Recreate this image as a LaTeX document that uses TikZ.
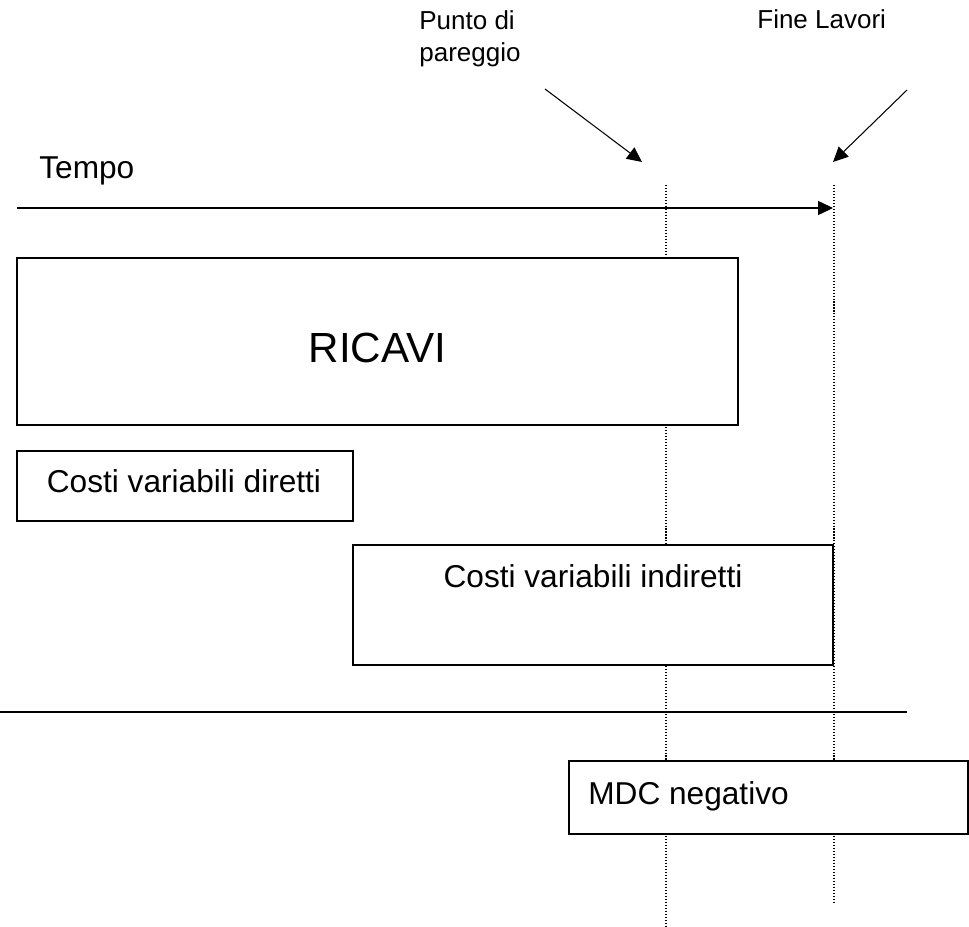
\documentclass[tikz,border=0pt]{standalone}
\usepackage{fontspec}
\setmainfont{Liberation Sans}
\usetikzlibrary{arrows.meta, positioning}

\begin{document}
\begin{tikzpicture}[x=0.02cm, y=-0.02cm,
    freccia/.style={-{Triangle[length=8.5pt, width=8pt]}, line width=0.6pt},
    riquadro/.style={draw, fill=white, line width=0.7pt},
    guida/.style={line width=0.6pt, dash pattern=on 0.6pt off 1.1pt},
    testo/.style={inner sep=0pt, font=\fontsize{18}{22}\selectfont},
    etichetta/.style={inner sep=0pt, align=left, font=\fontsize{14.8}{18.6}\selectfont}]

    \useasboundingbox (0,0) rectangle (969,926);

    % =================================================================
    % 1. PUNTI PRINCIPALI
    % =================================================================
    \coordinate (PuntoAlto) at (666,185);
    \coordinate (PuntoBasso) at (666,926);
    \coordinate (FineAlto) at (834,185);
    \coordinate (FineBasso) at (834,903);

    % Frecce che indicano le due linee verticali
    \coordinate (PuntoDa) at (545,89);
    \coordinate (PuntoA) at (642,162);
    \coordinate (FineDa) at (907,90);
    \coordinate (FineA) at (833,162);

    % Asse del tempo e linea dello zero
    \coordinate (TempoDa) at (17,208);
    \coordinate (TempoA) at (833,208);
    \coordinate (ZeroSx) at (0,712);
    \coordinate (ZeroDx) at (907,712);

    % =================================================================
    % 2. LINEE TRATTEGGIATE (sotto i riquadri)
    % =================================================================
    \draw[guida] (PuntoAlto) -- (PuntoBasso);
    \draw[guida] (FineAlto) -- (FineBasso);

    % =================================================================
    % 3. ETICHETTE IN ALTO E FRECCE
    % =================================================================
    % ancora sulla linea di base dell'ultima riga
    \node[etichetta, anchor=base west] (punto) at (419,62) {Punto di\\pareggio};
    \node[etichetta, anchor=base west] (fine) at (757,29) {Fine Lavori};

    \draw[freccia] (PuntoDa) -- (PuntoA);
    \draw[freccia] (FineDa) -- (FineA);

    \node[testo, anchor=base west] (tempo) at (39,178) {Tempo};
    \draw[freccia] (TempoDa) -- (TempoA);

    % =================================================================
    % 4. RIQUADRI
    % =================================================================
    \draw[riquadro] (17,258) rectangle (738,425);
    \node[inner sep=0pt, anchor=base, font=\fontsize{24}{28}\selectfont] (ricavi) at (377.5,362) {RICAVI};

    \draw[riquadro] (17,451) rectangle (353,521);
    \node[testo, anchor=base] (diretti) at (184,492) {Costi variabili diretti};

    \draw[riquadro] (353,545) rectangle (833,665);
    \node[testo, anchor=base] (indiretti) at (593,587) {Costi variabili indiretti};

    \draw[line width=0.6pt] (ZeroSx) -- (ZeroDx);

    \draw[riquadro] (569,761) rectangle (968,834);
    \node[testo, anchor=base west] (mdc) at (588,804) {MDC negativo};

\end{tikzpicture}
\end{document}
